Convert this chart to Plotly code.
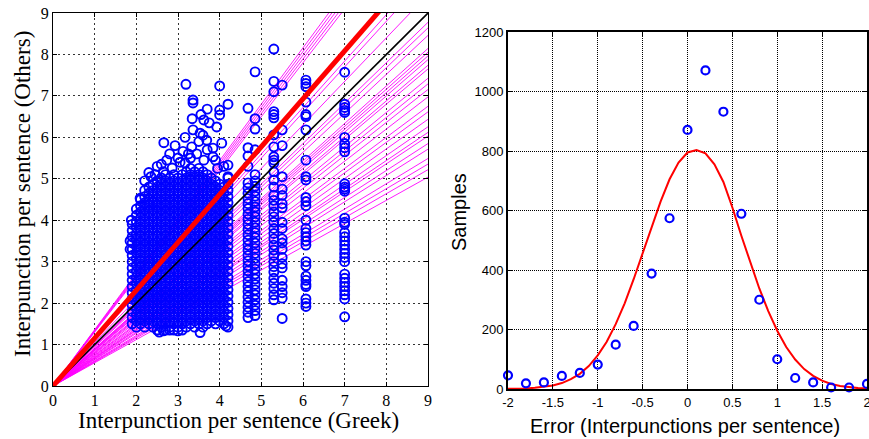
import plotly.graph_objects as go

# ---------------- Left panel data ----------------
# dense cloud, read column by column (x of column, y values of its circles)
blob_col_x = [1.9, 2.0, 2.1, 2.2, 2.3, 2.4, 2.5, 2.6, 2.7, 2.8, 2.9, 3.0,
              3.1, 3.2, 3.3, 3.4, 3.5, 3.6, 3.7, 3.8, 3.9, 4.0, 4.1, 4.2]
blob_col_y = [
    "1.50 1.65 1.80 1.95 2.10 2.25 2.40 2.55 2.70 2.85 3.00 3.15 3.30 3.45 3.60 3.75 3.90",
    "1.42 1.57 1.72 1.87 2.02 2.17 2.32 2.47 2.62 2.77 2.92 3.07 3.22 3.37 3.52 3.67 3.82 3.97 4.12 4.27",
    "1.50 1.65 1.80 1.95 2.10 2.25 2.40 2.55 2.70 2.85 3.00 3.15 3.30 3.45 3.60 3.75 3.90 4.05 4.20 4.35 4.50",
    "1.42 1.57 1.72 1.87 2.02 2.17 2.32 2.47 2.62 2.77 2.92 3.07 3.22 3.37 3.52 3.67 3.82 3.97 4.12 4.27 4.42 4.57 4.72",
    "1.50 1.65 1.80 1.95 2.10 2.25 2.40 2.55 2.70 2.85 3.00 3.15 3.30 3.45 3.60 3.75 3.90 4.05 4.20 4.35 4.50 4.65 4.80",
    "1.42 1.57 1.72 1.87 2.02 2.17 2.32 2.47 2.62 2.77 2.92 3.07 3.22 3.37 3.52 3.67 3.82 3.97 4.12 4.27 4.42 4.57 4.72 4.87",
    "1.35 1.50 1.65 1.80 1.95 2.10 2.25 2.40 2.55 2.70 2.85 3.00 3.15 3.30 3.45 3.60 3.75 3.90 4.05 4.20 4.35 4.50 4.65 4.80 4.95",
    "1.42 1.57 1.72 1.87 2.02 2.17 2.32 2.47 2.62 2.77 2.92 3.07 3.22 3.37 3.52 3.67 3.82 3.97 4.12 4.27 4.42 4.57 4.72 4.87 5.02",
    "1.35 1.50 1.65 1.80 1.95 2.10 2.25 2.40 2.55 2.70 2.85 3.00 3.15 3.30 3.45 3.60 3.75 3.90 4.05 4.20 4.35 4.50 4.65 4.80 4.95 5.10",
    "1.42 1.57 1.72 1.87 2.02 2.17 2.32 2.47 2.62 2.77 2.92 3.07 3.22 3.37 3.52 3.67 3.82 3.97 4.12 4.27 4.42 4.57 4.72 4.87 5.02",
    "1.35 1.50 1.65 1.80 1.95 2.10 2.25 2.40 2.55 2.70 2.85 3.00 3.15 3.30 3.45 3.60 3.75 3.90 4.05 4.20 4.35 4.50 4.65 4.80 4.95 5.10",
    "1.42 1.57 1.72 1.87 2.02 2.17 2.32 2.47 2.62 2.77 2.92 3.07 3.22 3.37 3.52 3.67 3.82 3.97 4.12 4.27 4.42 4.57 4.72 4.87 5.02",
    "1.35 1.50 1.65 1.80 1.95 2.10 2.25 2.40 2.55 2.70 2.85 3.00 3.15 3.30 3.45 3.60 3.75 3.90 4.05 4.20 4.35 4.50 4.65 4.80 4.95 5.10",
    "1.42 1.57 1.72 1.87 2.02 2.17 2.32 2.47 2.62 2.77 2.92 3.07 3.22 3.37 3.52 3.67 3.82 3.97 4.12 4.27 4.42 4.57 4.72 4.87 5.02 5.17",
    "1.50 1.65 1.80 1.95 2.10 2.25 2.40 2.55 2.70 2.85 3.00 3.15 3.30 3.45 3.60 3.75 3.90 4.05 4.20 4.35 4.50 4.65 4.80 4.95 5.10 5.25",
    "1.42 1.57 1.72 1.87 2.02 2.17 2.32 2.47 2.62 2.77 2.92 3.07 3.22 3.37 3.52 3.67 3.82 3.97 4.12 4.27 4.42 4.57 4.72 4.87 5.02 5.17",
    "1.50 1.65 1.80 1.95 2.10 2.25 2.40 2.55 2.70 2.85 3.00 3.15 3.30 3.45 3.60 3.75 3.90 4.05 4.20 4.35 4.50 4.65 4.80 4.95 5.10 5.25",
    "1.42 1.57 1.72 1.87 2.02 2.17 2.32 2.47 2.62 2.77 2.92 3.07 3.22 3.37 3.52 3.67 3.82 3.97 4.12 4.27 4.42 4.57 4.72 4.87 5.02 5.17",
    "1.50 1.65 1.80 1.95 2.10 2.25 2.40 2.55 2.70 2.85 3.00 3.15 3.30 3.45 3.60 3.75 3.90 4.05 4.20 4.35 4.50 4.65 4.80 4.95 5.10",
    "1.57 1.72 1.87 2.02 2.17 2.32 2.47 2.62 2.77 2.92 3.07 3.22 3.37 3.52 3.67 3.82 3.97 4.12 4.27 4.42 4.57 4.72 4.87 5.02",
    "1.50 1.65 1.80 1.95 2.10 2.25 2.40 2.55 2.70 2.85 3.00 3.15 3.30 3.45 3.60 3.75 3.90 4.05 4.20 4.35 4.50 4.65 4.80 4.95",
    "1.57 1.72 1.87 2.02 2.17 2.32 2.47 2.62 2.77 2.92 3.07 3.22 3.37 3.52 3.67 3.82 3.97 4.12 4.27 4.42 4.57 4.72 4.87",
    "1.50 1.65 1.80 1.95 2.10 2.25 2.40 2.55 2.70 2.85 3.00 3.15 3.30 3.45 3.60 3.75 3.90 4.05 4.20 4.35 4.50 4.65 4.80",
    "1.42 1.57 1.72 1.87 2.02 2.17 2.32 2.47 2.62 2.77 2.92 3.07 3.22 3.37 3.52 3.67 3.82 3.97 4.12 4.27 4.42 4.57 4.72 4.87 5.02",
]

# sparse circles around the cloud
outlier_x = [3.19, 4.00, 3.36, 3.36, 3.70, 4.20, 4.00, 4.00, 3.34, 3.62, 3.36, 3.53,
             3.93, 3.17, 3.69, 2.66, 2.93, 3.33, 3.12, 3.84, 4.05, 3.84, 2.73, 3.17,
             4.20, 2.86, 2.65, 2.09, 2.40, 4.20, 3.60, 3.50, 3.45, 3.90, 3.30, 3.70,
             3.00, 2.50, 2.30, 2.20, 3.55, 3.75, 3.62, 4.10, 2.80, 2.55, 2.80, 3.53,
             2.65, 3.00, 4.15, 1.85, 1.85, 1.88, 2.35, 2.60, 3.05, 3.25, 3.95, 2.45]
outlier_y = [7.28, 7.24, 6.90, 6.83, 6.68, 6.80, 6.66, 6.54, 6.45, 6.42, 6.18, 6.10,
             6.25, 6.00, 5.93, 5.87, 5.80, 5.77, 5.66, 5.74, 5.86, 5.53, 5.45, 5.38,
             5.33, 5.26, 5.17, 4.53, 4.44, 5.05, 6.05, 5.90, 5.60, 5.45, 5.50, 5.70,
             5.50, 5.30, 5.15, 4.95, 6.55, 6.35, 5.45, 5.30, 5.60, 1.30, 1.35, 1.29,
             1.33, 1.33, 1.45, 3.30, 3.50, 4.00, 5.05, 5.35, 5.40, 5.60, 5.25, 5.10]

# columns of circles at larger Greek values
col_a1_x = 4.68
col_a1_y = [1.65, 1.78, 1.90, 2.02, 2.15, 2.28, 2.40, 2.52, 2.65, 2.78, 2.90, 3.02, 3.15,
            3.28, 3.40, 3.52, 3.65, 3.78, 3.90, 4.02, 4.15, 4.28, 4.40, 4.52, 4.65, 4.78,
            4.90, 5.30, 5.55, 5.75, 6.70]
col_a2_x = 4.85
col_a2_y = [1.70, 1.82, 1.95, 2.08, 2.20, 2.32, 2.45, 2.58, 2.70, 2.82, 2.95, 3.08, 3.20,
            3.32, 3.45, 3.58, 3.70, 3.82, 3.95, 4.08, 4.20, 4.32, 4.45, 4.58, 4.70, 4.82,
            4.95, 5.10, 5.70, 6.20, 6.45, 7.58]
col_b1_x = 5.30
col_b1_y = [2.08, 2.20, 2.35, 2.48, 2.60, 2.75, 2.88, 3.00, 3.15, 3.28, 3.40, 3.55, 3.68,
            3.80, 3.95, 4.08, 4.20, 4.35, 4.48, 4.60, 4.80, 4.97, 5.17, 5.38, 5.45, 5.53,
            5.77, 6.06, 6.47, 6.55, 6.62, 7.10, 7.35, 8.13]
col_b2_x = 5.50
col_b2_y = [1.63, 2.12, 2.25, 2.40, 2.55, 2.85, 2.95, 3.10, 3.30, 3.45, 3.55, 3.80, 3.95,
            4.30, 4.40, 4.60, 4.75, 5.05, 5.80, 6.18, 7.26]
col_c_x = 6.07
col_c_y = [1.92, 2.00, 2.10, 2.40, 2.45, 2.55, 2.65, 2.90, 3.00, 3.40, 3.50, 3.60, 3.70,
           3.80, 4.00, 4.35, 4.45, 4.55, 4.97, 5.05, 5.45, 6.18, 6.50, 6.55, 6.85, 7.22,
           7.30, 7.38]
col_d_x = 7.00
col_d_y = [1.67, 2.10, 2.20, 2.30, 2.40, 2.50, 2.60, 2.70, 3.00, 3.10, 3.20, 3.30, 3.40,
           3.50, 3.60, 3.70, 3.90, 3.95, 4.05, 4.70, 4.75, 4.80, 4.88, 5.65, 5.75, 5.85,
           6.00, 6.60, 6.65, 6.72, 6.80, 7.57]

# slopes of the magenta per-text lines through the origin
magenta_slopes = [1.36, 1.345, 1.33, 1.315, 1.30, 1.12, 1.10, 1.05,
                  0.975, 0.96, 0.94, 0.905, 0.895, 0.885, 0.875, 0.86, 0.85, 0.825,
                  0.81, 0.795, 0.775, 0.75, 0.735, 0.715, 0.695, 0.68, 0.67, 0.65,
                  0.635, 0.61, 0.595, 0.58, 0.56]
red_slope = 1.155
identity_slope = 1.0
line_x_end = 9.0

# ---------------- Right panel data ----------------
err_x = [-2.0, -1.8, -1.6, -1.4, -1.2, -1.0, -0.8, -0.6, -0.4, -0.2, 0.0,
         0.2, 0.4, 0.6, 0.8, 1.0, 1.2, 1.4, 1.6, 1.8, 2.0]
err_samples = [46, 19, 22, 44, 54, 82, 149, 212, 388, 574, 871,
               1071, 932, 589, 300, 100, 37, 22, 5, 5, 17]
fit_x = [-2.0, -1.9, -1.8, -1.7, -1.6, -1.5, -1.4, -1.3, -1.2, -1.1, -1.0,
         -0.9, -0.8, -0.7, -0.6, -0.5, -0.4, -0.3, -0.2, -0.1, 0.0,
         0.1, 0.2, 0.3, 0.4, 0.5, 0.6, 0.7, 0.8, 0.9, 1.0,
         1.1, 1.2, 1.3, 1.4, 1.5, 1.6, 1.7, 1.8, 1.9, 2.0]
fit_y = [1, 1, 2, 4, 7, 12, 20, 33, 51, 77, 113,
         159, 218, 288, 369, 456, 545, 630, 705, 761, 795,
         803, 792, 755, 696, 610, 515, 425, 338, 262, 196,
         141, 99, 67, 44, 28, 17, 10, 6, 3, 2]
right_xticks = [-2, -1.5, -1, -0.5, 0, 0.5, 1, 1.5, 2]
right_xticklabels = ["-2", "-1.5", "-1", "-0.5", "0", "0.5", "1", "1.5", "2"]

# ---------------- Build figure ----------------
W, H = 869, 439
BLUE = "#0000FF"

sx, sy = [], []
for cx, col in zip(blob_col_x, blob_col_y):
    for v in col.split():
        sx.append(cx)
        sy.append(float(v))
sx += outlier_x
sy += outlier_y
for cx, col in [(col_a1_x, col_a1_y), (col_a2_x, col_a2_y), (col_b1_x, col_b1_y),
                (col_b2_x, col_b2_y), (col_c_x, col_c_y), (col_d_x, col_d_y)]:
    sx += [cx] * len(col)
    sy += col

fig = go.Figure()

mx, my = [], []
for s in magenta_slopes:
    mx += [0, line_x_end, None]
    my += [0, s * line_x_end, None]
fig.add_trace(go.Scatter(x=mx, y=my, mode="lines", xaxis="x", yaxis="y",
                         line=dict(color="#FF00FF", width=0.9),
                         showlegend=False, hoverinfo="skip"))
fig.add_trace(go.Scatter(
    x=sx, y=sy, mode="markers", xaxis="x", yaxis="y",
    marker=dict(symbol="circle-open", size=9, color=BLUE, line=dict(width=1.9, color=BLUE)),
    showlegend=False, hoverinfo="skip"))
fig.add_trace(go.Scatter(x=[0, line_x_end], y=[0, identity_slope * line_x_end], mode="lines",
                         xaxis="x", yaxis="y", line=dict(color="black", width=1.6),
                         showlegend=False))
fig.add_trace(go.Scatter(x=[0, line_x_end], y=[0, red_slope * line_x_end], mode="lines",
                         xaxis="x", yaxis="y", line=dict(color="#FF0000", width=5),
                         showlegend=False))

fig.add_trace(go.Scatter(x=fit_x, y=fit_y, mode="lines", xaxis="x2", yaxis="y2",
                         line=dict(color="#FF0000", width=2), showlegend=False))
fig.add_trace(go.Scatter(x=err_x, y=err_samples, mode="markers", xaxis="x2", yaxis="y2",
                         marker=dict(symbol="circle-open", size=8, color=BLUE,
                                     line=dict(width=2.2, color=BLUE)),
                         cliponaxis=False, showlegend=False))

serif = "Liberation Serif, Times New Roman, serif"
sans = "Liberation Sans, Arial, sans-serif"

def px_x(p):
    return p / W

def px_y(p):
    return 1 - p / H

left_axis_common = dict(
    showgrid=True, gridcolor="#333333", griddash="2px,3px", gridwidth=1,
    showline=True, linecolor="black", linewidth=1, mirror="ticks",
    ticks="inside", ticklen=4, tickcolor="black", zeroline=False, automargin=False,
    tickfont=dict(family=serif, size=16, color="black"))
right_axis_common = dict(
    showgrid=True, gridcolor="#000000", griddash="1px,1px", gridwidth=1,
    showline=True, linecolor="black", linewidth=2, mirror="ticks",
    ticks="inside", ticklen=4, tickcolor="black", zeroline=False, automargin=False,
    ticklabeloverflow="allow",
    tickfont=dict(family=sans, size=13, color="black"))

fig.update_layout(
    width=W, height=H, autosize=False,
    margin=dict(l=0, r=0, t=0, b=0),
    paper_bgcolor="white", plot_bgcolor="white",
    xaxis=dict(domain=[px_x(53), px_x(428)], range=[0, 9], dtick=1, anchor="y",
               **left_axis_common),
    yaxis=dict(domain=[px_y(386), px_y(13)], range=[0, 9], dtick=1, anchor="x",
               **left_axis_common),
    xaxis2=dict(domain=[px_x(508), px_x(867)], range=[-2, 2], anchor="y2",
                tickvals=right_xticks, ticktext=right_xticklabels,
                **right_axis_common),
    yaxis2=dict(domain=[px_y(389), px_y(32)], range=[0, 1200], dtick=200, anchor="x2",
                **right_axis_common),
    annotations=[
        dict(text="Interpunction per sentence (Greek)", x=px_x(239), y=px_y(420),
             xref="paper", yref="paper", showarrow=False, xanchor="center", yanchor="middle",
             font=dict(family=serif, size=23, color="black")),
        dict(text="Interpunction per sentence (Others)", x=px_x(22), y=px_y(194),
             xref="paper", yref="paper", showarrow=False, xanchor="center", yanchor="middle",
             textangle=-90, font=dict(family=serif, size=23, color="black")),
        dict(text="Error (Interpunctions per sentence)", x=px_x(685), y=px_y(426),
             xref="paper", yref="paper", showarrow=False, xanchor="center", yanchor="middle",
             font=dict(family=sans, size=20, color="black")),
        dict(text="Samples", x=px_x(459), y=px_y(212),
             xref="paper", yref="paper", showarrow=False, xanchor="center", yanchor="middle",
             textangle=-90, font=dict(family=sans, size=20, color="black")),
    ],
)

fig.write_html("out.html", config={"displayModeBar": False},
               post_script="document.body.style.margin='0';document.body.style.overflow='hidden';")
